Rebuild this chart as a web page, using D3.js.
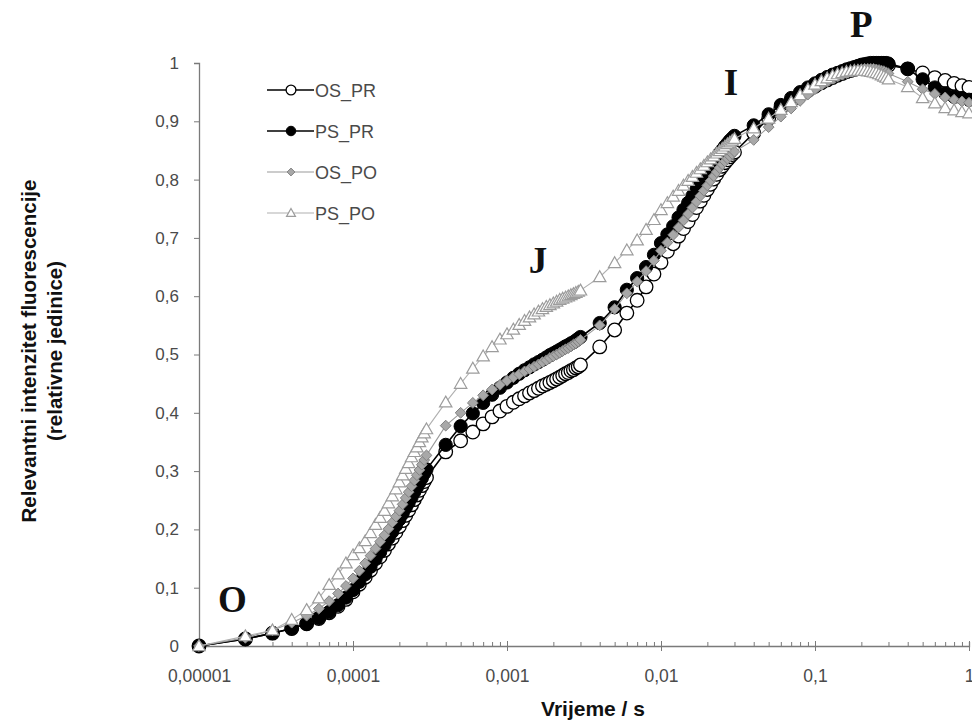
<!DOCTYPE html>
<html>
<head>
<meta charset="utf-8">
<script src="https://cdn.jsdelivr.net/npm/d3@7"></script>
<style>
  html, body { margin: 0; padding: 0; background: #fff; }
  svg { display: block; }
</style>
</head>
<body>
<svg id="chart" width="972" height="722"></svg>
<script>
// Measurement times (s): 10 µs steps to 0.3 ms, 0.1 ms to 3 ms, 1 ms to 30 ms, 10 ms to 0.3 s, 0.1 s to 1 s
const timeS = [
  0.00001,0.00002,0.00003,0.00004,0.00005,0.00006,0.00007,0.00008,0.00009,0.0001,
  0.00011,0.00012,0.00013,0.00014,0.00015,0.00016,0.00017,0.00018,0.00019,0.0002,
  0.00021,0.00022,0.00023,0.00024,0.00025,0.00026,0.00027,0.00028,0.00029,0.0003,
  0.0004,0.0005,0.0006,0.0007,0.0008,0.0009,0.001,0.0011,0.0012,0.0013,0.0014,0.0015,0.0016,0.0017,
  0.0018,0.0019,0.002,0.0021,0.0022,0.0023,0.0024,0.0025,0.0026,0.0027,0.0028,0.0029,0.003,
  0.004,0.005,0.006,0.007,0.008,0.009,0.01,0.011,0.012,0.013,0.014,0.015,0.016,0.017,
  0.018,0.019,0.02,0.021,0.022,0.023,0.024,0.025,0.026,0.027,0.028,0.029,0.03,
  0.04,0.05,0.06,0.07,0.08,0.09,0.1,0.11,0.12,0.13,0.14,0.15,0.16,0.17,
  0.18,0.19,0.2,0.21,0.22,0.23,0.24,0.25,0.26,0.27,0.28,0.29,0.3,
  0.4,0.5,0.6,0.7,0.8,0.9,1
];

// Relative fluorescence intensity for each sample
const osPR = [
  0,0.012,0.022,0.03,0.038,0.047,0.057,0.068,0.08,0.093,
  0.106,0.118,0.13,0.142,0.153,0.164,0.175,0.185,0.195,0.205,
  0.215,0.224,0.233,0.242,0.251,0.259,0.267,0.275,0.282,0.289,
  0.333,0.352,0.367,0.381,0.393,0.403,0.411,0.418,0.424,0.429,0.434,0.438,0.442,0.446,
  0.449,0.452,0.455,0.458,0.461,0.464,0.467,0.469,0.472,0.474,0.477,0.479,0.482,
  0.513,0.542,0.571,0.593,0.616,0.638,0.658,0.677,0.69,0.703,0.716,0.728,0.74,0.752,
  0.763,0.773,0.783,0.792,0.801,0.809,0.817,0.823,0.829,0.834,0.839,0.843,0.847,
  0.88,0.905,0.922,0.935,0.945,0.953,0.96,0.966,0.971,0.975,0.979,0.982,0.985,0.987,
  0.989,0.991,0.993,0.994,0.995,0.996,0.997,0.997,0.998,0.998,0.998,0.997,0.996,
  0.99,0.983,0.975,0.97,0.965,0.961,0.958
];
const psPR = [
  0,0.012,0.022,0.03,0.038,0.048,0.058,0.07,0.083,0.096,
  0.11,0.123,0.136,0.149,0.161,0.173,0.185,0.196,0.207,0.217,
  0.227,0.237,0.246,0.255,0.264,0.272,0.28,0.288,0.296,0.303,
  0.345,0.377,0.399,0.417,0.431,0.443,0.452,0.46,0.467,0.473,0.478,0.483,0.487,0.491,
  0.495,0.499,0.502,0.505,0.508,0.511,0.514,0.516,0.519,0.521,0.524,0.527,0.53,
  0.554,0.581,0.611,0.631,0.65,0.671,0.691,0.706,0.72,0.735,0.748,0.76,0.772,0.783,
  0.794,0.804,0.813,0.822,0.83,0.838,0.845,0.851,0.857,0.862,0.867,0.871,0.875,
  0.893,0.912,0.928,0.94,0.95,0.958,0.965,0.971,0.976,0.98,0.983,0.986,0.989,0.991,
  0.993,0.995,0.997,0.998,0.999,1,1,1,1,1,1,1,0.999,
  0.99,0.972,0.958,0.948,0.942,0.94,0.937
];
const osPO = [
  0,0.014,0.027,0.04,0.052,0.064,0.077,0.09,0.103,0.116,
  0.129,0.142,0.155,0.167,0.179,0.19,0.201,0.212,0.222,0.232,
  0.243,0.254,0.264,0.274,0.284,0.293,0.302,0.311,0.319,0.327,
  0.378,0.4,0.417,0.43,0.44,0.448,0.455,0.461,0.466,0.471,0.475,0.479,0.483,0.487,
  0.49,0.494,0.497,0.5,0.503,0.506,0.509,0.511,0.514,0.517,0.519,0.522,0.525,
  0.55,0.578,0.605,0.625,0.643,0.661,0.678,0.692,0.705,0.718,0.73,0.741,0.752,0.762,
  0.772,0.781,0.79,0.798,0.806,0.813,0.82,0.826,0.831,0.836,0.84,0.844,0.848,
  0.868,0.89,0.908,0.922,0.935,0.946,0.955,0.962,0.968,0.973,0.977,0.98,0.983,0.985,
  0.987,0.988,0.989,0.99,0.99,0.99,0.99,0.989,0.988,0.987,0.986,0.984,0.982,
  0.968,0.955,0.947,0.941,0.937,0.934,0.932
];
const psPO = [
  0,0.017,0.027,0.045,0.062,0.082,0.105,0.123,0.142,0.156,
  0.168,0.18,0.194,0.208,0.22,0.232,0.245,0.257,0.269,0.281,
  0.293,0.304,0.314,0.324,0.333,0.341,0.35,0.358,0.365,0.372,
  0.418,0.45,0.476,0.497,0.513,0.526,0.535,0.543,0.551,0.558,0.564,0.569,0.574,0.578,
  0.582,0.585,0.588,0.591,0.594,0.596,0.598,0.6,0.602,0.604,0.606,0.608,0.61,
  0.633,0.657,0.679,0.696,0.714,0.731,0.748,0.76,0.771,0.781,0.79,0.798,0.805,0.812,
  0.818,0.824,0.83,0.835,0.84,0.845,0.849,0.853,0.857,0.861,0.864,0.867,0.87,
  0.888,0.905,0.92,0.933,0.945,0.955,0.963,0.969,0.974,0.978,0.981,0.983,0.985,0.986,
  0.987,0.987,0.987,0.987,0.986,0.985,0.984,0.983,0.981,0.979,0.977,0.975,0.972,
  0.959,0.94,0.931,0.923,0.919,0.916,0.914
];

const seriesNames = ["OS_PR", "PS_PR", "OS_PO", "PS_PO"];
const yTicks = [0, 0.1, 0.2, 0.3, 0.4, 0.5, 0.6, 0.7, 0.8, 0.9, 1];
const yTickLabels = ["0", "0,1", "0,2", "0,3", "0,4", "0,5", "0,6", "0,7", "0,8", "0,9", "1"];
const xTicks = [0.00001, 0.0001, 0.001, 0.01, 0.1, 1];
const xTickLabels = ["0,00001", "0,0001", "0,001", "0,01", "0,1", "1"];
// Phase letters of the OJIP transient, placed by time and relative intensity
const phaseLetters = ["O", "J", "I", "P"];
const phaseTimes = [0.0000165, 0.00159, 0.0285, 0.2];
const phaseValues = [0.058, 0.64, 0.945, 1.045];

const svg = d3.select("#chart");
const x = d3.scaleLog().domain([0.00001, 1]).range([199, 969]);
const y = d3.scaleLinear().domain([0, 1]).range([646, 63]);

const styles = {
  OS_PR: { line: "#000", lw: 1.6, shape: "circle", fill: "#fff", stroke: "#000", sw: 1.3, size: 6.8 },
  PS_PR: { line: "#000", lw: 1.6, shape: "circle", fill: "#000", stroke: "#000", sw: 1, size: 6.6 },
  OS_PO: { line: "#9a9a9a", lw: 1.1, shape: "diamond", fill: "#a8a8a8", stroke: "#808080", sw: 1, size: 5.4 },
  PS_PO: { line: "#b0b0b0", lw: 1.1, shape: "triangle", fill: "#fff", stroke: "#9c9c9c", sw: 1.2, size: 6.2 }
};
const seriesValues = { OS_PR: osPR, PS_PR: psPR, OS_PO: osPO, PS_PO: psPO };

function markerPath(shape, s) {
  if (shape === "diamond") return `M0,${-s}L${s},0L0,${s}L${-s},0Z`;
  if (shape === "triangle") return `M0,${-s}L${s},${s * 0.75}L${-s},${s * 0.75}Z`;
  return null;
}
function drawMarker(sel, st, s) {
  if (st.shape === "circle") {
    sel.append("circle").attr("r", s).attr("fill", st.fill).attr("stroke", st.stroke).attr("stroke-width", st.sw);
  } else {
    sel.append("path").attr("d", markerPath(st.shape, s)).attr("fill", st.fill).attr("stroke", st.stroke).attr("stroke-width", st.sw);
  }
}

// Axes
const axisColor = "#7a7a7a";
const tickFont = "'Liberation Sans', Arial, sans-serif";

const yAxis = svg.append("g").attr("transform", "translate(199,0)")
  .call(d3.axisLeft(y).tickValues(yTicks).tickSize(5).tickPadding(15)
    .tickFormat((d, i) => yTickLabels[i]));
yAxis.select(".domain").attr("stroke", axisColor).attr("stroke-width", 1.3);
yAxis.selectAll(".tick line").attr("stroke", axisColor);
yAxis.selectAll("text").attr("font-family", tickFont).attr("font-size", 17).attr("fill", "#4a4a4a");

const minorTicks = [];
for (let e = -5; e < 0; e++) for (let m = 1; m <= 9; m++) minorTicks.push(m * Math.pow(10, e));
minorTicks.push(1);

const xMinor = svg.append("g").attr("transform", "translate(0,646)")
  .call(d3.axisBottom(x).tickValues(minorTicks).tickSize(-4).tickFormat(""));
xMinor.select(".domain").attr("stroke", axisColor).attr("stroke-width", 1.3);
xMinor.selectAll(".tick line").attr("stroke", axisColor);

const xAxis = svg.append("g").attr("transform", "translate(0,646)")
  .call(d3.axisBottom(x).tickValues(xTicks).tickSize(5).tickPadding(19)
    .tickFormat((d, i) => xTickLabels[i]));
xAxis.select(".domain").remove();
xAxis.selectAll(".tick line").attr("stroke", axisColor).attr("y1", -5);
xAxis.selectAll("text").attr("font-family", tickFont).attr("font-size", 17.5).attr("fill", "#4a4a4a");

// Axis titles
svg.append("text").attr("x", 593).attr("y", 716).attr("text-anchor", "middle")
  .attr("font-family", tickFont).attr("font-weight", "bold").attr("font-size", 21).attr("fill", "#111")
  .text("Vrijeme / s");
const yTitle = svg.append("g").attr("transform", "translate(0,351) rotate(-90)");
yTitle.append("text").attr("x", 0).attr("y", 36).attr("text-anchor", "middle")
  .attr("font-family", tickFont).attr("font-weight", "bold").attr("font-size", 20.5).attr("fill", "#111")
  .text("Relevantni intenzitet fluorescencije");
yTitle.append("text").attr("x", 0).attr("y", 62).attr("text-anchor", "middle")
  .attr("font-family", tickFont).attr("font-weight", "bold").attr("font-size", 20.5).attr("fill", "#111")
  .text("(relativne jedinice)");

// Series: lines, then markers
const plot = svg.append("g");
seriesNames.forEach(name => {
  const st = styles[name];
  const vals = seriesValues[name];
  const pts = timeS.map((t, i) => [t, vals[i]]);
  const g = plot.append("g");
  g.append("path").datum(pts)
    .attr("d", d3.line().x(d => x(d[0])).y(d => y(d[1])))
    .attr("fill", "none").attr("stroke", st.line).attr("stroke-width", st.lw);
  g.selectAll("g.m").data(pts).join("g").attr("class", "m")
    .attr("transform", d => `translate(${x(d[0])},${y(d[1])})`)
    .each(function () { drawMarker(d3.select(this), st, st.size); });
});

// Phase labels O, J, I, P
svg.selectAll("text.phase").data(phaseLetters).join("text").attr("class", "phase")
  .attr("x", (d, i) => x(phaseTimes[i])).attr("y", (d, i) => y(phaseValues[i]))
  .attr("text-anchor", "middle")
  .attr("font-family", "'Liberation Serif', 'Times New Roman', serif")
  .attr("font-weight", "bold").attr("font-size", 37).attr("fill", "#111")
  .text(d => d);

// Legend
const legend = svg.append("g").attr("transform", "translate(267,90)");
seriesNames.forEach((name, i) => {
  const st = styles[name];
  const row = legend.append("g").attr("transform", `translate(0,${i * 41})`);
  row.append("line").attr("x1", 0).attr("x2", 47).attr("stroke", st.line).attr("stroke-width", st.lw);
  const m = row.append("g").attr("transform", "translate(24,0)");
  drawMarker(m, st, st.size * 0.72);
  row.append("text").attr("x", 48).attr("y", 6.5)
    .attr("font-family", tickFont).attr("font-size", 18).attr("fill", "#4a4a4a").text(name);
});
</script>
</body>
</html>
